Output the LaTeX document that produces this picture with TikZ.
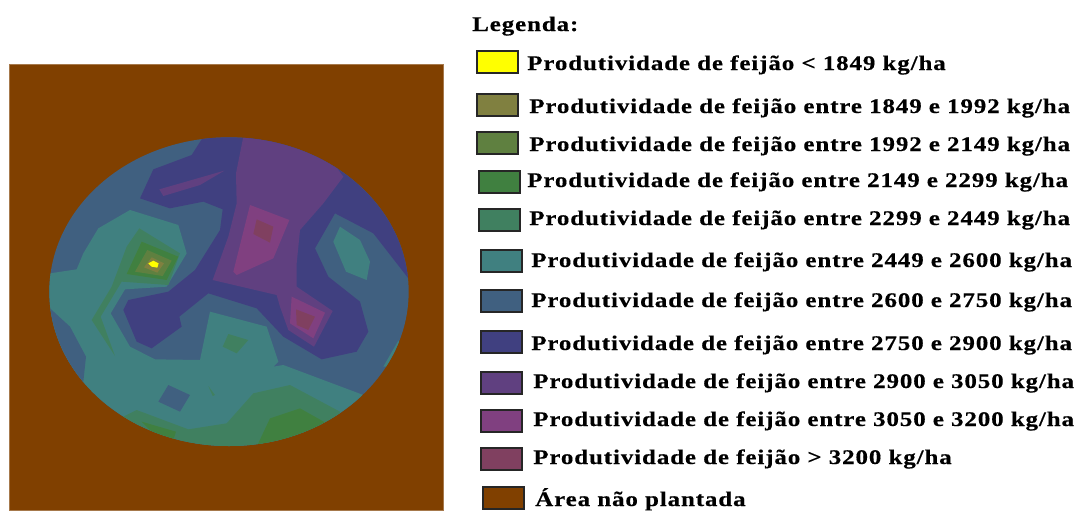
\documentclass[tikz,border=0pt]{standalone}
\usepackage{fontspec}
\setmainfont{Liberation Serif}[BoldFont={Liberation Serif Bold},BoldFeatures={FakeStretch=1.2,LetterSpace=4.3,FakeBold=0.4}]
\definecolor{Lz}{HTML}{FFFF00}
\definecolor{La}{HTML}{808040}
\definecolor{Lb}{HTML}{5F8040}
\definecolor{Lc}{HTML}{408040}
\definecolor{Ld}{HTML}{408060}
\definecolor{Le}{HTML}{408080}
\definecolor{Lf}{HTML}{406080}
\definecolor{Lg}{HTML}{404080}
\definecolor{Lh}{HTML}{604080}
\definecolor{Li}{HTML}{804080}
\definecolor{Lj}{HTML}{804060}
\definecolor{Lk}{HTML}{804000}
\tikzset{
 swatch/.style={draw=black!85,line width=1.5pt,rectangle,minimum width=31pt,minimum height=16.5pt,anchor=north west},
 legtext/.style={anchor=base west,inner sep=0pt,font=\bfseries\fontsize{15.6pt}{17pt}\selectfont},
}
\begin{document}
\begin{tikzpicture}[x=0.75pt,y=-0.75pt]
\useasboundingbox (0,0) rectangle (1079,511);
\fill[white] (0,0) rectangle (1079,511);
% field
\fill[Lk] (9,64) rectangle (443,510);
\draw[Lk!70!white,line width=0.5pt] (9,64) rectangle (443,510);
\begin{scope}[shift={(40,130)},x=0.25pt,y=-0.25pt]
\fill[Lf] (567,485) ellipse [x radius=539,y radius=463];
\clip (567,485) ellipse [x radius=539,y radius=463];
\fill[Le] (0,430)--(30,430)--(110,418)--(130,370)--(175,295)--(270,240)--(415,285)--(440,370)--(380,470)--(255,478)--(212,550)--(270,650)--(345,688)--(480,690)--(510,545)--(680,590)--(715,695)--(700,710)--(730,705)--(970,795)--(970,1000)--(0,1000)--cycle;
\fill[Lf] (0,520)--(30,535)--(90,590)--(138,680)--(130,755)--(0,755)--cycle;
\fill[Le] (1075,632)--(1030,710)--(1120,710)--cycle;
\fill[Ld] (298,295)--(420,370)--(385,465)--(245,455)--(182,560)--(225,678)--(155,570)--(215,470)--(260,350)--cycle;
\fill[Lc] (305,335)--(415,380)--(380,450)--(260,432)--cycle;
\fill[Lb] (322,360)--(395,392)--(368,438)--(285,425)--cycle;
\fill[La] (335,382)--(372,400)--(352,428)--(312,412)--cycle;
\fill[Lz] (325,400)--(340,392)--(356,400)--(352,413)--(335,410)--cycle;
\fill[Lg] (490,20)--(455,75)--(340,118)--(300,205)--(390,235)--(490,215)--(548,238)--(540,300)--(465,420)--(385,485)--(265,510)--(250,540)--(290,635)--(335,655)--(425,590)--(418,560)--(505,490)--(650,535)--(730,620)--(845,688)--(950,665)--(985,605)--(960,515)--(865,440)--(825,355)--(885,250)--(1000,310)--(1105,445)--(1150,300)--(950,100)--(620,0)--cycle;
\fill[Lh] (610,20)--(588,130)--(590,220)--(565,320)--(518,450)--(710,495)--(720,530)--(745,600)--(822,650)--(878,543)--(770,470)--(770,400)--(780,300)--(850,220)--(910,140)--(850,60)--(700,10)--cycle;
\fill[Lh] (358,178)--(553,122)--(480,165)--(370,198)--cycle;
\fill[Li] (630,225)--(748,270)--(700,385)--(590,435)--(580,425)--cycle;
\fill[Lj] (650,268)--(700,290)--(690,338)--(640,312)--cycle;
\fill[Li] (755,500)--(855,548)--(820,625)--(750,580)--cycle;
\fill[Lj] (768,538)--(825,560)--(805,600)--(770,585)--cycle;
\fill[Le] (900,290)--(960,330)--(990,395)--(980,450)--(918,425)--(880,335)--cycle;
\fill[Lf] (385,765)--(450,795)--(420,845)--(355,815)--cycle;
\fill[Ld] (565,612)--(625,630)--(590,670)--(548,650)--cycle;
\fill[Ld] (505,768)--(525,795)--(518,798)--cycle;
\fill[Ld] (250,860)--(290,840)--(445,898)--(560,880)--(640,790)--(750,765)--(900,845)--(880,1000)--(300,1000)--cycle;
\fill[Lc] (650,950)--(690,865)--(780,835)--(860,880)--(800,1000)--cycle;
\fill[Lc] (305,875)--(408,905)--(400,930)--(340,910)--cycle;
\end{scope}
% legend
\node[legtext] (title) at (472,31) {Legenda:};
\node[swatch,fill=Lz] (s0) at (475.5,49.5) {};
\node[swatch,fill=La] (s1) at (475.5,92.5) {};
\node[swatch,fill=Lb] (s2) at (475.5,130.5) {};
\node[swatch,fill=Lc] (s3) at (477.5,170) {};
\node[swatch,fill=Ld] (s4) at (477.5,208) {};
\node[swatch,fill=Le] (s5) at (479.5,249) {};
\node[swatch,fill=Lf] (s6) at (479.5,288.5) {};
\node[swatch,fill=Lg] (s7) at (479.5,330) {};
\node[swatch,fill=Lh] (s8) at (479.5,371) {};
\node[swatch,fill=Li] (s9) at (479.5,409) {};
\node[swatch,fill=Lj] (s10) at (479.5,447) {};
\node[swatch,fill=Lk] (s11) at (481.5,486) {};
\node[legtext] (t0) at (527,70) {Produtividade de feijão < 1849 kg/ha};
\node[legtext] (t1) at (529,113) {Produtividade de feijão entre 1849 e 1992 kg/ha};
\node[legtext] (t2) at (529,151) {Produtividade de feijão entre 1992 e 2149 kg/ha};
\node[legtext] (t3) at (527,187) {Produtividade de feijão entre 2149 e 2299 kg/ha};
\node[legtext] (t4) at (529,225) {Produtividade de feijão entre 2299 e 2449 kg/ha};
\node[legtext] (t5) at (531,267) {Produtividade de feijão entre 2449 e 2600 kg/ha};
\node[legtext] (t6) at (531,307) {Produtividade de feijão entre 2600 e 2750 kg/ha};
\node[legtext] (t7) at (531,350) {Produtividade de feijão entre 2750 e 2900 kg/ha};
\node[legtext] (t8) at (533,388) {Produtividade de feijão entre 2900 e 3050 kg/ha};
\node[legtext] (t9) at (533,426) {Produtividade de feijão entre 3050 e 3200 kg/ha};
\node[legtext] (t10) at (533,464) {Produtividade de feijão > 3200 kg/ha};
\node[legtext] (t11) at (535,506) {Área não plantada};
\end{tikzpicture}
\end{document}
